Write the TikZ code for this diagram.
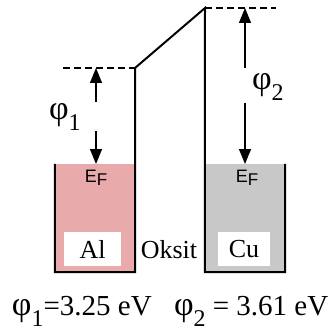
\documentclass[tikz,border=0pt]{standalone}
\usepackage{fontspec}
\setmainfont{Liberation Serif}
\newfontfamily\efont{Liberation Sans}
\usetikzlibrary{arrows.meta}
\definecolor{alpink}{RGB}{232,170,170}
\definecolor{cugrey}{RGB}{200,200,200}
\newcommand{\phisub}[1]{{\fontsize{34}{34}\selectfont φ}\raisebox{-11pt}{\fontsize{24}{24}\selectfont #1}}
\begin{document}
\begin{tikzpicture}[x=1pt,y=-1pt,
  wall/.style={line width=2pt, line join=miter},
  lvl/.style={line width=1.5pt, dash pattern=on 7pt off 4pt},
  gaparrow/.style={line width=1.3pt, -{Triangle[length=15pt,width=12pt]}},
  metal/.style={draw=none, inner sep=0pt, minimum width=80pt, minimum height=108pt},
  tag/.style={fill=white, inner sep=0pt, minimum width=57pt, minimum height=34pt, font=\fontsize{26}{26}\selectfont},
  ef/.style={inner sep=0pt, font=\efont\fontsize{18}{18}\selectfont},
  lbl/.style={inner sep=0pt, outer sep=0pt},
]
\useasboundingbox (0,0) rectangle (329,334);
% metals
\node[metal, fill=alpink] (al) at (95,218) {};
\node[metal, fill=cugrey] (cu) at (245,218) {};
% barrier corners and levels
\coordinate (vacL) at (135,68);
\coordinate (vacR) at (205,8);
\coordinate (dashL) at (63,68);
\coordinate (dashR) at (276,8);
\draw[wall] (al.north west) -- (al.south west) -- (al.south east) -- (vacL) -- (vacR) -- (cu.south west) -- (cu.south east) -- (cu.north east);
\draw[lvl] (dashL) -- (vacL);
\draw[lvl] (vacR) -- (dashR);
% labels in boxes
\node[tag] (altag) at (92.5,249) {Al};
\node[tag, minimum width=52pt] (cutag) at (244,249) {Cu};
\node[lbl, font=\fontsize{26}{26}\selectfont] (oks) at (169,250) {Oksit};
\node[ef] (efl) at (96,178) {E\raisebox{-3.5pt}{\fontsize{17}{17}\selectfont F}};
\node[ef] (efr) at (247,178) {E\raisebox{-3.5pt}{\fontsize{17}{17}\selectfont F}};
% work function arrows
\coordinate (a1top) at (96,68);
\coordinate (a1s) at (96,102);
\coordinate (a1d) at (96,131);
\coordinate (a1bot) at (96,164);
\coordinate (a2top) at (245,8);
\coordinate (a2s) at (245,68);
\coordinate (a2d) at (245,103);
\coordinate (a2bot) at (245,164);
\draw[gaparrow] (a1s) -- (a1top);
\draw[gaparrow] (a1d) -- (a1bot);
\draw[gaparrow] (a2s) -- (a2top);
\draw[gaparrow] (a2d) -- (a2bot);
\node[lbl, anchor=base west] (phi1) at (49,119) {\phisub{1}};
\node[lbl, anchor=base west] (phi2) at (252,90) {\phisub{2}};
% values
\node[lbl, anchor=base west] (v1) at (12,315) {\phisub{1}{\fontsize{29}{29}\selectfont =3.25 eV}};
\node[lbl, anchor=base west] (v2) at (174,315) {\phisub{2}{\fontsize{29}{29}\selectfont{} = 3.61 eV}};
\end{tikzpicture}
\end{document}
